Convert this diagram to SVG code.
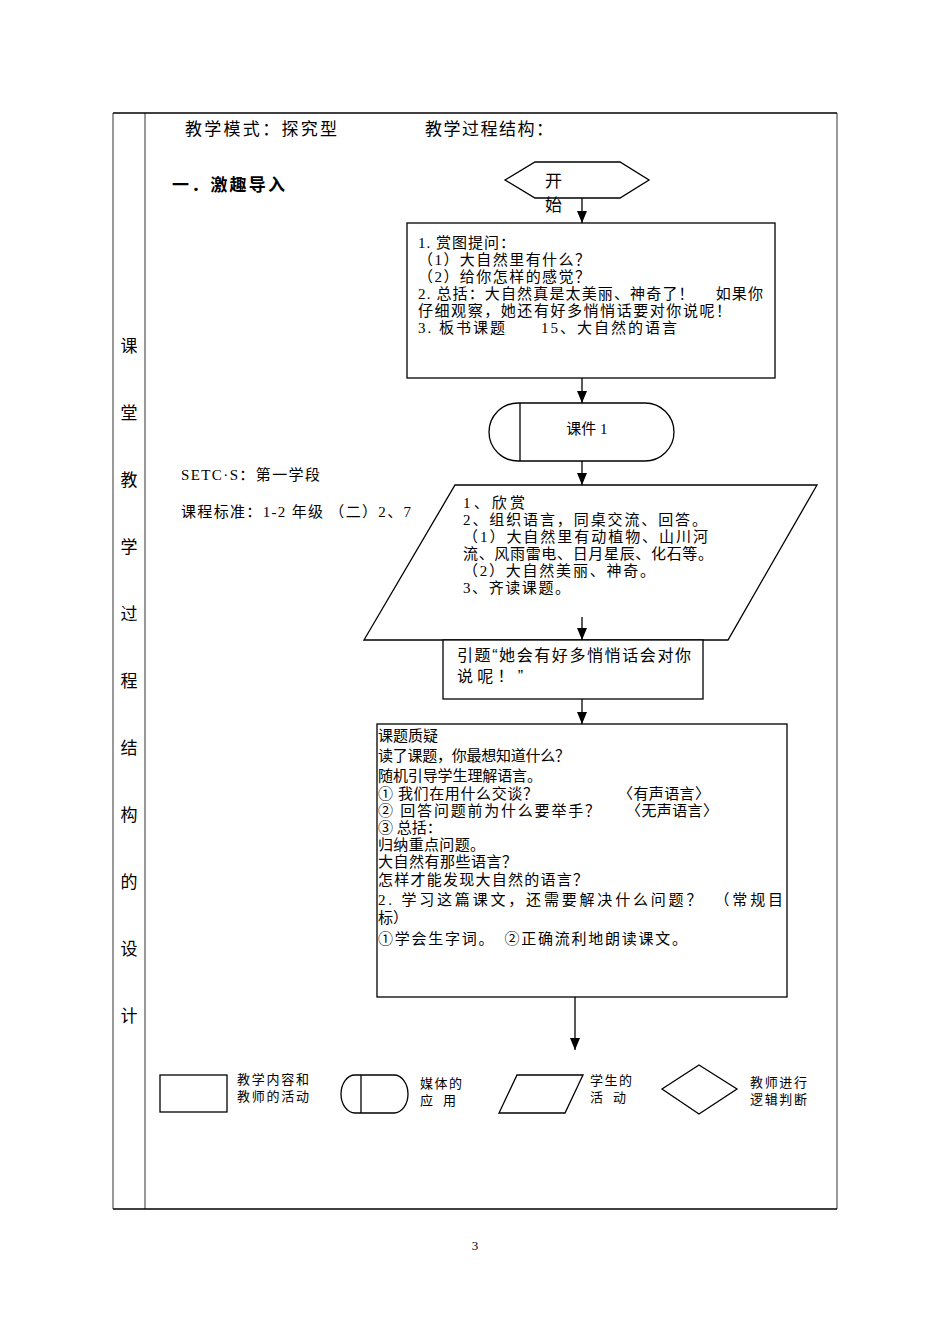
<svg xmlns="http://www.w3.org/2000/svg" width="950" height="1344" viewBox="0 0 950 1344">
<defs>
<marker id="ah" markerWidth="12" markerHeight="10" refX="12" refY="5" orient="auto" markerUnits="userSpaceOnUse" viewBox="0 0 12 10">
<path d="M0,0 L12,5 L0,10 Z" fill="#000"/>
</marker>
<style>
.ln{fill:none;stroke:#000;stroke-width:1.3}
.sh{fill:#fff;stroke:#000;stroke-width:1.3}
.fr{fill:none;stroke:#777;stroke-width:1.5}
.t{font-family:"Liberation Serif","Noto Sans CJK SC",serif;font-size:15px;fill:#000}
.s{font-family:"Liberation Sans","Noto Sans CJK SC",sans-serif;fill:#000}
.c{stroke:#000;stroke-width:1.3;fill:none}
.v{font-size:17px}
</style>
</defs>
<rect width="950" height="1344" fill="#fff"/>
<g id="frame">
<line x1="113" y1="113" x2="113" y2="1209" class="fr"/>
<line x1="145" y1="113" x2="145" y2="1209" class="fr"/>
<line x1="837" y1="113" x2="837" y2="1209" class="fr"/>
<line x1="113" y1="113" x2="837" y2="113" stroke="#000" stroke-width="1.3"/>
<line x1="113" y1="1209" x2="837" y2="1209" stroke="#000" stroke-width="1.3"/>
</g>
<g id="side-title" text-anchor="middle">
<text x="129" y="352" class="t v">课</text>
<text x="129" y="419" class="t v">堂</text>
<text x="129" y="486" class="t v">教</text>
<text x="129" y="553" class="t v">学</text>
<text x="129" y="620" class="t v">过</text>
<text x="129" y="687" class="t v">程</text>
<text x="129" y="754" class="t v">结</text>
<text x="129" y="821" class="t v">构</text>
<text x="129" y="888" class="t v">的</text>
<text x="129" y="955" class="t v">设</text>
<text x="129" y="1022" class="t v">计</text>
</g>
<g id="header">
<text x="185" y="135" class="t v" textLength="152" lengthAdjust="spacing">教学模式：探究型</text>
<text x="425" y="135" class="t v" textLength="128" lengthAdjust="spacing">教学过程结构：</text>
<text x="172" y="191" class="s" style="font-size:17px;font-weight:bold" textLength="113" lengthAdjust="spacing">一．激趣导入</text>
<text x="181" y="480" class="t" textLength="139" lengthAdjust="spacing">SETC·S：第一学段</text>
<text x="181" y="517" class="t" textLength="230" lengthAdjust="spacing">课程标准：1-2 年级 （二）2、7</text>
</g>
<g id="connectors">
<line x1="582" y1="198" x2="582" y2="223" class="c" marker-end="url(#ah)"/>
<line x1="582" y1="378" x2="582" y2="403" class="c" marker-end="url(#ah)"/>
<line x1="582" y1="461" x2="582" y2="485" class="c" marker-end="url(#ah)"/>
<line x1="582" y1="617" x2="582" y2="640" class="c" marker-end="url(#ah)"/>
<line x1="582" y1="699" x2="582" y2="724" class="c" marker-end="url(#ah)"/>
<line x1="575" y1="997" x2="575" y2="1050" class="c" marker-end="url(#ah)"/>
</g>
<g id="start">
<polygon points="505,180 535,162 620,162 649,180 620,198 535,198" class="sh"/>
<text x="545" y="187" class="s" style="font-size:17px">开</text>
<text x="545" y="211" class="s" style="font-size:17px">始</text>
</g>
<g id="step1">
<rect x="407" y="223" width="368" height="155" class="sh"/>
<text class="t">
<tspan x="418" y="248" textLength="97" lengthAdjust="spacing">1. 赏图提问：</tspan>
<tspan x="418" y="265" textLength="172" lengthAdjust="spacing">（1）大自然里有什么？</tspan>
<tspan x="418" y="282" textLength="172" lengthAdjust="spacing">（2）给你怎样的感觉？</tspan>
<tspan x="418" y="299" textLength="345" lengthAdjust="spacing">2. 总括：大自然真是太美丽、神奇了！　 如果你</tspan>
<tspan x="418" y="316" textLength="313" lengthAdjust="spacing">仔细观察，她还有好多悄悄话要对你说呢！</tspan>
<tspan x="418" y="333" textLength="259" lengthAdjust="spacing">3. 板书课题　　15、大自然的语言</tspan>
</text>
</g>
<g id="media1">
<path d="M518,403 L645,403 A29,29 0 0 1 645,461 L518,461 A29,29 0 0 1 518,403 Z" class="sh"/>
<line x1="520" y1="403" x2="520" y2="461" class="ln"/>
<text x="587" y="434" class="t" text-anchor="middle">课件 1</text>
</g>
<g id="student1">
<polygon points="455,485 817,485 728,640 364,640" class="sh"/>
<text class="t">
<tspan x="463" y="508" textLength="62" lengthAdjust="spacing">1、欣赏</tspan>
<tspan x="463" y="525" textLength="244" lengthAdjust="spacing">2、组织语言，同桌交流、回答。</tspan>
<tspan x="463" y="542" textLength="245" lengthAdjust="spacing">（1）大自然里有动植物、山川河</tspan>
<tspan x="463" y="559" textLength="250" lengthAdjust="spacing">流、风雨雷电、日月星辰、化石等。</tspan>
<tspan x="463" y="576" textLength="192" lengthAdjust="spacing">（2）大自然美丽、神奇。</tspan>
<tspan x="463" y="593" textLength="107" lengthAdjust="spacing">3、齐读课题。</tspan>
</text>
<line x1="582" y1="617" x2="582" y2="640" class="c" marker-end="url(#ah)"/>
</g>
<g id="step2">
<rect x="443" y="640" width="260" height="59" class="sh"/>
<text class="s" style="font-size:16px">
<tspan x="457" y="661" textLength="234" lengthAdjust="spacing">引题“她会有好多悄悄话会对你</tspan>
<tspan x="457" y="682" textLength="66" lengthAdjust="spacing">说呢！”</tspan>
</text>
</g>
<g id="step3">
<rect x="377" y="724" width="410" height="273" class="sh"/>
<text class="t">
<tspan x="378" y="741">课题质疑</tspan>
<tspan x="378" y="761" textLength="192" lengthAdjust="spacing">读了课题，你最想知道什么？</tspan>
<tspan x="378" y="781" textLength="164" lengthAdjust="spacing">随机引导学生理解语言。</tspan>
<tspan x="378" y="799" textLength="160" lengthAdjust="spacing">① 我们在用什么交谈？</tspan>
<tspan x="378" y="816" textLength="222" lengthAdjust="spacing">② 回答问题前为什么要举手？</tspan>
<tspan x="378" y="833">③ 总括：</tspan>
<tspan x="378" y="850" textLength="107" lengthAdjust="spacing">归纳重点问题。</tspan>
<tspan x="378" y="867" textLength="139" lengthAdjust="spacing">大自然有那些语言？</tspan>
<tspan x="378" y="885" textLength="210" lengthAdjust="spacing">怎样才能发现大自然的语言？</tspan>
<tspan x="378" y="905" textLength="405" lengthAdjust="spacing">2. 学习这篇课文，还需要解决什么问题？　（常规目</tspan>
<tspan x="378" y="923">标）</tspan>
<tspan x="378" y="944" textLength="309" lengthAdjust="spacing">①学会生字词。　②正确流利地朗读课文。</tspan>
</text>
<text x="618" y="799" class="t" textLength="92" lengthAdjust="spacing">〈有声语言〉</text>
<text x="626" y="816" class="t" textLength="92" lengthAdjust="spacing">〈无声语言〉</text>
</g>
<g id="legend">
<rect x="160" y="1075" width="67" height="37" class="sh"/>
<text class="s" style="font-size:13px"><tspan x="237" y="1084" textLength="72" lengthAdjust="spacing">教学内容和</tspan><tspan x="237" y="1101" textLength="72" lengthAdjust="spacing">教师的活动</tspan></text>
<path d="M355,1075 L394,1075 A14,19 0 0 1 394,1113 L355,1113 A14,19 0 0 1 355,1075 Z" class="sh"/>
<line x1="361" y1="1075" x2="361" y2="1113" class="ln"/>
<text class="s" style="font-size:13px"><tspan x="420" y="1088" textLength="42" lengthAdjust="spacing">媒体的</tspan><tspan x="420" y="1105" textLength="36" lengthAdjust="spacing">应  用</tspan></text>
<polygon points="517,1075 583,1075 565,1113 499,1113" class="sh"/>
<text class="s" style="font-size:13px"><tspan x="590" y="1085" textLength="42" lengthAdjust="spacing">学生的</tspan><tspan x="590" y="1102" textLength="36" lengthAdjust="spacing">活  动</tspan></text>
<polygon points="699,1065 737,1089 699,1114 662,1089" class="sh"/>
<text class="s" style="font-size:13px"><tspan x="750" y="1087" textLength="57" lengthAdjust="spacing">教师进行</tspan><tspan x="750" y="1104" textLength="57" lengthAdjust="spacing">逻辑判断</tspan></text>
</g>
<text x="475" y="1250" class="t" text-anchor="middle" style="font-size:13px">3</text>
</svg>
